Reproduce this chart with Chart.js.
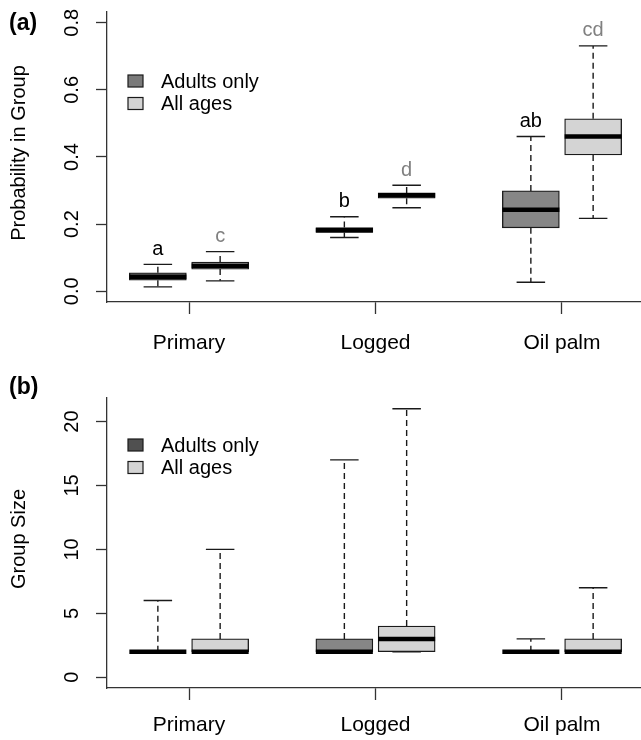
<!DOCTYPE html>
<html lang="en">
<head>
<meta charset="UTF-8">
<title>Probability in group and group size</title>
<script src="https://cdn.jsdelivr.net/npm/chart.js"></script>
<style>
  body { margin: 0; background: #fff; }
  canvas { display: block; }
</style>
</head>
<body>
<canvas id="chartA" width="641" height="360"></canvas>
<canvas id="chartB" width="641" height="380"></canvas>
<script>
const groups = ['Primary', 'Logged', 'Oil palm'];
const seriesNames = ['Adults only', 'All ages'];

// (a) probability in group -- min, q1, median, q3, max per habitat
const probAdultMin = [0.013, 0.160, 0.027];
const probAdultQ1  = [0.033, 0.175, 0.189];
const probAdultMed = [0.043, 0.182, 0.243];
const probAdultQ3  = [0.055, 0.190, 0.299];
const probAdultMax = [0.080, 0.222, 0.461];

const probAllMin = [0.031, 0.249, 0.217];
const probAllQ1  = [0.066, 0.277, 0.406];
const probAllMed = [0.076, 0.286, 0.461];
const probAllQ3  = [0.087, 0.293, 0.514];
const probAllMax = [0.118, 0.316, 0.731];

const adultLetters = ['a', 'b', 'ab'];
const allLetters = ['c', 'd', 'cd'];

const probTicks = [0, 0.2, 0.4, 0.6, 0.8];
const probTickLabels = ['0.0', '0.2', '0.4', '0.6', '0.8'];

// (b) group size
const sizeAdultMin = [2, 2, 2];
const sizeAdultQ1  = [2, 2, 2];
const sizeAdultMed = [2, 2, 2];
const sizeAdultQ3  = [2, 3, 2];
const sizeAdultMax = [6, 17, 3];

const sizeAllMin = [2, 2, 2];
const sizeAllQ1  = [2, 2, 2];
const sizeAllMed = [2, 3, 2];
const sizeAllQ3  = [3, 4, 3];
const sizeAllMax = [10, 21, 7];

const sizeTicks = [0, 5, 10, 15, 20];
const sizeTickLabels = ['0', '5', '10', '15', '20'];

const FONT = '"Liberation Sans", Arial, Helvetica, sans-serif';
Chart.defaults.font.family = FONT;
Chart.defaults.color = '#000';

const boxOffset = 0.167;
const adultFill = '#868686';
const allFill = '#d4d4d4';
const lineCol = '#1a1a1a';

function boxData(q1, q3, shift) {
    return q1.map((v, i) => ({ x: i + 1 + shift, y: [v, q3[i]] }));
}

function makeChart(id, spec) {
    // whiskers, caps, medians, letters and the R-style text around the plot
    const boxParts = {
        id: 'boxParts',
        afterDatasetsDraw(chart) {
            const ctx = chart.ctx;
            const ys = chart.scales.y;
            spec.series.forEach((s, d) => {
                chart.getDatasetMeta(d).data.forEach((bar, i) => {
                    const x = bar.x;
                    const half = bar.width / 2;
                    const pMin = ys.getPixelForValue(s.min[i]);
                    const pQ1 = ys.getPixelForValue(s.q1[i]);
                    const pMed = ys.getPixelForValue(s.med[i]);
                    const pQ3 = ys.getPixelForValue(s.q3[i]);
                    const pMax = ys.getPixelForValue(s.max[i]);
                    ctx.save();
                    ctx.strokeStyle = lineCol;
                    ctx.lineWidth = 1.4;
                    ctx.setLineDash([6, 4]);
                    ctx.beginPath();
                    ctx.moveTo(x, pQ3); ctx.lineTo(x, pMax);
                    ctx.moveTo(x, pQ1); ctx.lineTo(x, pMin);
                    ctx.stroke();
                    ctx.setLineDash([]);
                    ctx.beginPath();
                    ctx.moveTo(x - half / 2, pMax); ctx.lineTo(x + half / 2, pMax);
                    ctx.moveTo(x - half / 2, pMin); ctx.lineTo(x + half / 2, pMin);
                    ctx.stroke();
                    // median
                    ctx.strokeStyle = '#000';
                    ctx.lineWidth = 4.5;
                    ctx.beginPath();
                    ctx.moveTo(x - half, pMed); ctx.lineTo(x + half, pMed);
                    ctx.stroke();
                    if (s.letters) {
                        ctx.fillStyle = s.letterColor;
                        ctx.font = '20px ' + FONT;
                        ctx.textAlign = 'center';
                        ctx.textBaseline = 'middle';
                        ctx.fillText(s.letters[i], x, pMax - 15);
                    }
                    ctx.restore();
                });
            });
        },
        afterDraw(chart) {
            const ctx = chart.ctx;
            const ys = chart.scales.y;
            const area = chart.chartArea;
            ctx.save();
            ctx.fillStyle = '#000';
            ctx.textAlign = 'center';
            ctx.textBaseline = 'alphabetic';
            // rotated y tick labels, as R draws them
            ctx.font = '20px ' + FONT;
            spec.ticks.forEach((v, i) => {
                ctx.save();
                ctx.translate(78, ys.getPixelForValue(v));
                ctx.rotate(-Math.PI / 2);
                ctx.fillText(spec.tickLabels[i], 0, 0);
                ctx.restore();
            });
            ctx.font = '20px ' + FONT;
            ctx.save();
            ctx.translate(25, (area.top + area.bottom) / 2 - 4);
            ctx.rotate(-Math.PI / 2);
            ctx.fillText(spec.yTitle, 0, 0);
            ctx.restore();
            // panel tag
            ctx.font = 'bold 23px ' + FONT;
            ctx.textAlign = 'left';
            ctx.textBaseline = 'middle';
            ctx.fillText(spec.tag, 9, spec.tagY);
            // legend
            ctx.font = '20px ' + FONT;
            spec.legend.forEach((item, k) => {
                const cy = spec.legendY + k * 22.5;
                ctx.fillStyle = item.color;
                ctx.fillRect(128, cy - 6, 15, 12);
                ctx.strokeStyle = lineCol;
                ctx.lineWidth = 1.2;
                ctx.strokeRect(128, cy - 6, 15, 12);
                ctx.fillStyle = '#000';
                ctx.fillText(item.name, 161, cy + 1);
            });
            ctx.restore();
        }
    };

    const datasets = spec.series.map((s, d) => ({
        label: seriesNames[d],
        data: boxData(s.q1, s.q3, d === 0 ? -boxOffset : boxOffset),
        backgroundColor: s.fill,
        borderColor: lineCol,
        borderWidth: 1.3,
        borderSkipped: false,
        barThickness: 57,
        grouped: false
    }));

    return new Chart(document.getElementById(id), {
        type: 'bar',
        data: { datasets: datasets },
        plugins: [boxParts],
        options: {
            responsive: false,
            animation: false,
            events: [],
            layout: { padding: { top: spec.padTop, left: 0, right: 0, bottom: 0 } },
            plugins: { legend: { display: false }, tooltip: { enabled: false } },
            scales: {
                x: {
                    type: 'linear',
                    min: 0.5603,
                    max: 3.4236,
                    offset: false,
                    afterBuildTicks: (s) => { s.ticks = groups.map((g, i) => ({ value: i + 1 })); },
                    afterFit: (s) => { s.height = spec.xHeight; },
                    ticks: {
                        callback: (v, i) => groups[i],
                        font: { size: 21 },
                        padding: spec.xPad,
                        maxRotation: 0,
                        autoSkip: false,
                        color: '#000'
                    },
                    grid: { drawOnChartArea: false, offset: false, tickLength: 12, color: '#333', tickWidth: 1.3 },
                    border: { color: '#333', width: 1.3 }
                },
                y: {
                    type: 'linear',
                    min: spec.yMin,
                    max: spec.yMax,
                    afterBuildTicks: (s) => { s.ticks = spec.ticks.map(v => ({ value: v })); },
                    afterFit: (s) => { s.width = 107; },
                    ticks: { display: false },
                    grid: { drawOnChartArea: false, tickLength: 11, color: '#333', tickWidth: 1.3 },
                    border: { color: '#333', width: 1.3 }
                }
            }
        }
    });
}

makeChart('chartA', {
    series: [
        { min: probAdultMin, q1: probAdultQ1, med: probAdultMed, q3: probAdultQ3, max: probAdultMax,
          fill: adultFill, letters: adultLetters, letterColor: '#000' },
        { min: probAllMin, q1: probAllQ1, med: probAllMed, q3: probAllQ3, max: probAllMax,
          fill: allFill, letters: allLetters, letterColor: '#808080' }
    ],
    ticks: probTicks,
    tickLabels: probTickLabels,
    yMin: -0.032, yMax: 0.832,
    yTitle: 'Probability in Group',
    tag: '(a)', tagY: 24,
    legend: [{ name: seriesNames[0], color: '#7a7a7a' }, { name: seriesNames[1], color: '#d4d4d4' }],
    legendY: 81,
    padTop: 12, xHeight: 58, xPad: 17
});

makeChart('chartB', {
    series: [
        { min: sizeAdultMin, q1: sizeAdultQ1, med: sizeAdultMed, q3: sizeAdultQ3, max: sizeAdultMax, fill: adultFill },
        { min: sizeAllMin, q1: sizeAllQ1, med: sizeAllMed, q3: sizeAllQ3, max: sizeAllMax, fill: allFill }
    ],
    ticks: sizeTicks,
    tickLabels: sizeTickLabels,
    yMin: -0.84, yMax: 21.84,
    yTitle: 'Group Size',
    tag: '(b)', tagY: 28,
    legend: [{ name: seriesNames[0], color: '#505050' }, { name: seriesNames[1], color: '#d4d4d4' }],
    legendY: 85,
    padTop: 38, xHeight: 52, xPad: 13
});
</script>
</body>
</html>
